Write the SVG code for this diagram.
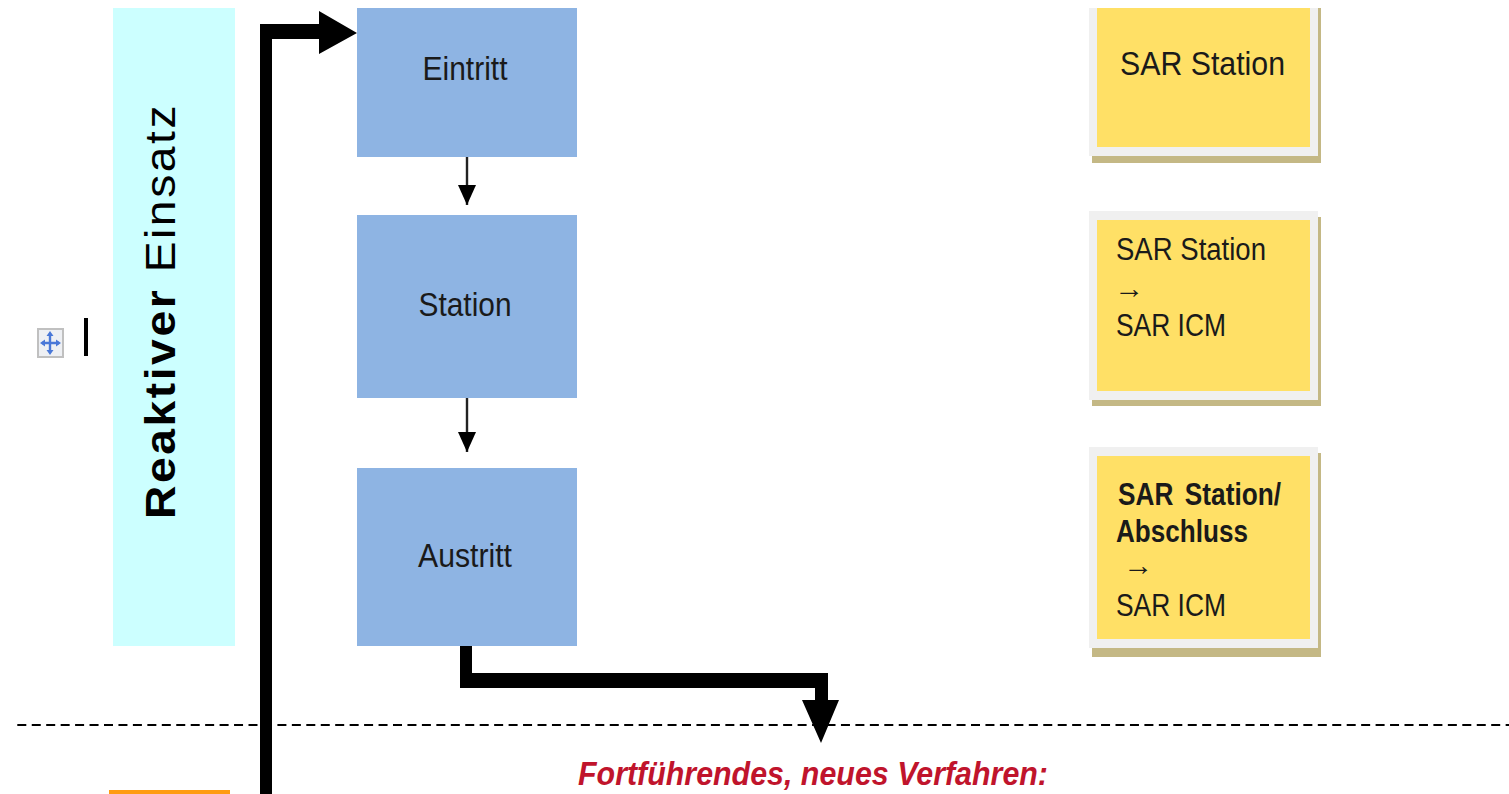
<svg xmlns="http://www.w3.org/2000/svg" width="1509" height="794" viewBox="0 0 1509 794">
<style>
text{font-family:"Liberation Sans",Arial,sans-serif;fill:#1a1a1a}
.b{fill:#8eb4e3}.l{font-size:33px}.y{fill:#ffe066}.g{fill:#f0f0f0}.s{fill:#c4b885}.t{font-size:33px}
.m{font-size:31px}.a{font-size:28px}
.thin{fill:none;stroke:#222;stroke-width:2.4}
</style>
<defs><marker id="a" markerWidth="20" markerHeight="20" refX="20" refY="9" orient="auto" markerUnits="userSpaceOnUse"><path d="M0 0L20 9L0 18Z" fill="#000"/></marker></defs>
<rect width="1509" height="794" fill="#fff"/>
<g id="move-handle">
<rect x="38" y="329" width="25" height="28" fill="#eef0f4" stroke="#c0c0c0" stroke-width="2"/>
<path d="M50 334V352M42 343H59" stroke="#4a78d8" stroke-width="2.4"/>
<path d="M50 331l3.5 5h-7zM50 355l3.5-5h-7zM40 343l5-3.5v7zM61 343l-5-3.5v7z" fill="#4a78d8"/>
<rect x="84" y="318" width="4" height="38" fill="#000"/>
</g>
<g id="phase">
<rect x="113" y="8" width="122" height="638" fill="#ccffff"/>
<text transform="translate(175 519) rotate(-90) scale(1.1 1)" font-size="42" style="fill:#000" textLength="376" lengthAdjust="spacing"><tspan font-weight="700">Reaktiver</tspan> Einsatz</text>
</g>
<rect id="orange-phase" x="109" y="790" width="121" height="4" fill="#ff9c12"/>
<g id="connectors">
<path d="M17.3 725H1509" fill="none" stroke="#000" stroke-width="2" stroke-dasharray="9 5.45"/>
<path d="M260 794V24H319V11L357 33L319 54V39H272V794Z" fill="#000"/>
<path d="M460 646H472V673H828V700H839L821 743L802 700H815V688H460Z" fill="#000"/>
<path class="thin" d="M467 157V205" marker-end="url(#a)"/>
<path class="thin" d="M467 398V452" marker-end="url(#a)"/>
</g>
<g id="eintritt"><rect class="b" x="357" y="8" width="220" height="149"/><text class="l" x="465" y="80" text-anchor="middle" textLength="85" lengthAdjust="spacingAndGlyphs">Eintritt</text></g>
<g id="station"><rect class="b" x="357" y="215" width="220" height="183"/><text class="l" x="465" y="316" text-anchor="middle" textLength="93" lengthAdjust="spacingAndGlyphs">Station</text></g>
<g id="austritt"><rect class="b" x="357" y="468" width="220" height="178"/><text class="l" x="465" y="567" text-anchor="middle" textLength="94" lengthAdjust="spacingAndGlyphs">Austritt</text></g>
<g id="sar-1">
<rect class="s" x="1092" y="8" width="229" height="155"/><rect class="g" x="1089" y="8" width="229" height="148"/><rect class="y" x="1097" y="8" width="213" height="139"/>
<text class="t" x="1120" y="75" textLength="165" lengthAdjust="spacingAndGlyphs">SAR Station</text>
</g>
<g id="sar-2">
<rect class="s" x="1092" y="217" width="229" height="189"/><rect class="g" x="1089" y="211" width="229" height="189"/><rect class="y" x="1097" y="220" width="213" height="171"/>
<text class="m" x="1116" y="260" textLength="150" lengthAdjust="spacingAndGlyphs">SAR Station</text>
<text class="a" x="1114" y="298" textLength="30" lengthAdjust="spacingAndGlyphs">→</text>
<text class="m" x="1116" y="336" textLength="110" lengthAdjust="spacingAndGlyphs">SAR ICM</text>
</g>
<g id="sar-3">
<rect class="s" x="1092" y="453" width="229" height="204"/><rect class="g" x="1089" y="447" width="229" height="201"/><rect class="y" x="1097" y="456" width="213" height="183"/>
<text class="m" x="1118" y="505" font-weight="700" word-spacing="5" textLength="163" lengthAdjust="spacingAndGlyphs">SAR Station/</text>
<text class="m" x="1116" y="542" font-weight="700" textLength="132" lengthAdjust="spacingAndGlyphs">Abschluss</text>
<text class="a" x="1123" y="575" textLength="30" lengthAdjust="spacingAndGlyphs">→</text>
<text class="m" x="1116" y="616" textLength="110" lengthAdjust="spacingAndGlyphs">SAR ICM</text>
</g>
<text id="note" x="578" y="785" font-weight="700" font-style="italic" style="fill:#c0142c;font-size:34px" textLength="470" lengthAdjust="spacingAndGlyphs">Fortführendes, neues Verfahren:</text>
</svg>
